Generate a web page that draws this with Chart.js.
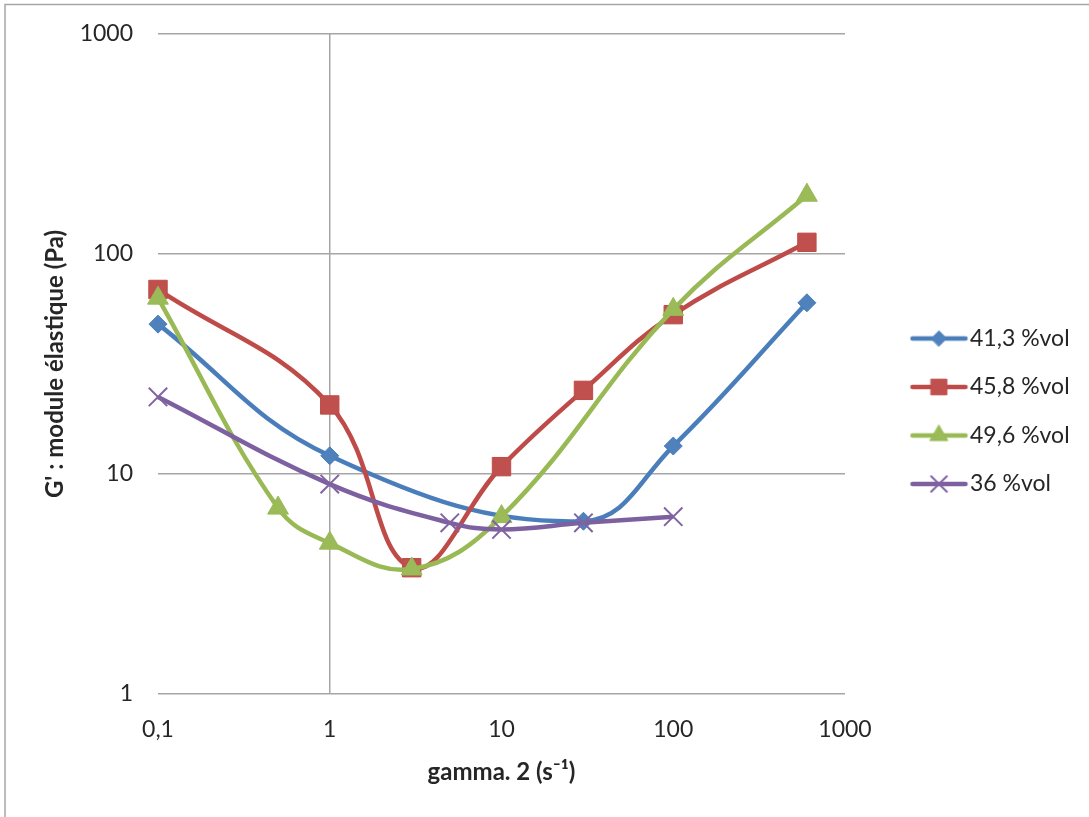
<!DOCTYPE html>
<html lang="fr">
<head>
<meta charset="UTF-8">
<title>G' : module élastique</title>
<script src="https://cdn.jsdelivr.net/npm/chart.js"></script>
<style>
  html, body { margin: 0; padding: 0; background: #fff; }
  canvas { display: block; }
</style>
</head>
<body>
<canvas id="chart" width="1089" height="817"></canvas>
<script>
// data
const seriesLabels = ['41,3 %vol', '45,8 %vol', '49,6 %vol', '36 %vol'];

const x413 = [0.1, 1, 30, 100, 600];
const y413 = [48, 12.1, 6.1, 13.4, 60];

const x458 = [0.1, 1, 3, 10, 30, 100, 600];
const y458 = [69, 20.6, 3.75, 10.8, 24, 53, 113];

const x496 = [0.1, 0.5, 1, 3, 10, 100, 600];
const y496 = [63, 7.0, 4.85, 3.7, 6.4, 56, 185];

const x36 = [0.1, 1, 5, 10, 30, 100];
const y36 = [22.4, 9.0, 6.0, 5.6, 6.0, 6.4];

const xTicks = [0.1, 1, 10, 100, 1000];
const yTicks = [1, 10, 100, 1000];

const FONT = 'Lato, "Open Sans", sans-serif';
const TEXT = '#262626';
const GRID = '#a6a6a6';

const pts = (xs, ys) => xs.map((x, i) => ({ x: x, y: ys[i] }));

const styles = [
  { line: '#4a7ebb', fill: '#4f81bd', shape: 'rectRot', r: 9, bw: 1 },
  { line: '#be4b48', fill: '#c0504d', shape: 'rect', r: 13, bw: 1 },
  { line: '#98b954', fill: '#9bbb59', shape: 'triangle', r: 12, bw: 1 },
  { line: '#7d60a0', fill: '#8064a2', shape: 'crossRot', r: 13, bw: 2 },
];

// legend swatch: line with the marker on it
function swatch(s) {
  const c = document.createElement('canvas');
  c.width = 80; c.height = 30;
  const ctx = c.getContext('2d');
  ctx.strokeStyle = s.line;
  ctx.lineWidth = 4.5;
  ctx.lineCap = 'round';
  ctx.beginPath();
  ctx.moveTo(23, 15);
  ctx.lineTo(76, 15);
  ctx.stroke();
  ctx.fillStyle = s.fill;
  ctx.strokeStyle = s.shape === 'crossRot' ? s.fill : s.line;
  ctx.lineWidth = s.bw;
  Chart.helpers.drawPoint(ctx, { pointStyle: s.shape, radius: s.r * 0.85, borderWidth: s.bw, rotation: 0 }, 49.5, 15);
  return c;
}
const swatches = styles.map(swatch);

const allX = [x413, x458, x496, x36];
const allY = [y413, y458, y496, y36];

const datasets = styles.map((s, i) => ({
  label: seriesLabels[i],
  data: pts(allX[i], allY[i]),
  borderColor: s.line,
  backgroundColor: s.fill,
  borderWidth: 4.5,
  tension: 0.4,
  clip: false,
  pointStyle: s.shape,
  pointRadius: s.r,
  pointBackgroundColor: s.fill,
  pointBorderColor: s.shape === 'crossRot' ? s.fill : s.line,
  pointBorderWidth: s.bw,
  order: 4 - i,
}));

const framePlugin = {
  id: 'frame',
  beforeDraw(chart) {
    const ctx = chart.ctx;
    ctx.save();
    ctx.fillStyle = '#fff';
    ctx.fillRect(0, 0, chart.width, chart.height);
    ctx.strokeStyle = GRID;
    ctx.lineWidth = 1.5;
    ctx.beginPath();
    ctx.moveTo(5, chart.height);
    ctx.lineTo(5, 4.5);
    ctx.lineTo(chart.width, 4.5);
    ctx.stroke();
    ctx.restore();

    // place the legend block where Excel put it
    const lg = chart.legend;
    lg.left = 875;
    lg.right = 1089;
    lg.top = 301.5;
    lg.bottom = 600;
  },
};

new Chart(document.getElementById('chart'), {
  type: 'line',
  data: { datasets },
  plugins: [framePlugin],
  options: {
    responsive: false,
    animation: false,
    devicePixelRatio: 1,
    layout: { padding: { left: 36, top: 34, right: 94, bottom: 20 } },
    plugins: {
      tooltip: { enabled: false },
      legend: {
        position: 'right',
        align: 'start',
        maxWidth: 150,
        labels: {
          usePointStyle: true,
          pointStyleWidth: 58,
          padding: 25.5,
          color: TEXT,
          font: { family: FONT, size: 23 },
          sort: (a, b) => a.datasetIndex - b.datasetIndex,
          generateLabels(chart) {
            const items = Chart.defaults.plugins.legend.labels.generateLabels(chart);
            items.forEach((it) => { it.pointStyle = swatches[it.datasetIndex]; });
            return items;
          },
        },
      },
    },
    scales: {
      x: {
        type: 'logarithmic',
        min: 0.1,
        max: 1000,
        afterFit(scale) { scale.height = 817 - 20 - 694; },
        afterBuildTicks(scale) { scale.ticks = xTicks.map((v) => ({ value: v })); },
        border: { display: false },
        grid: {
          drawTicks: false,
          lineWidth: 1.5,
          color: (c) => (c.tick && c.tick.value === 1 ? GRID : 'rgba(0,0,0,0)'),
        },
        ticks: {
          autoSkip: false,
          maxRotation: 0,
          padding: 22,
          color: TEXT,
          font: { family: FONT, size: 23 },
          callback: (v) => String(v).replace('.', ','),
        },
        title: {
          display: true,
          text: 'gamma. 2 (s⁻¹)',
          color: TEXT,
          font: { family: FONT, size: 24, weight: 'bold' },
          padding: { top: 0, bottom: 10.6 },
        },
      },
      y: {
        type: 'logarithmic',
        min: 1,
        max: 1000,
        afterFit(scale) {
          scale.width = 158 - 36;
          scale.paddingTop = 0;
          scale.paddingBottom = 0;
        },
        afterBuildTicks(scale) { scale.ticks = yTicks.map((v) => ({ value: v })); },
        border: { display: false },
        grid: { drawTicks: false, lineWidth: 1.5, color: GRID },
        ticks: {
          autoSkip: false,
          padding: 25,
          color: TEXT,
          font: { family: FONT, size: 23 },
          callback: (v) => String(v),
        },
        title: {
          display: true,
          text: "G' : module élastique (Pa)",
          color: TEXT,
          font: { family: FONT, size: 24, weight: 'bold' },
          padding: { top: 4.6, bottom: 0 },
        },
      },
    },
  },
});
</script>
</body>
</html>
